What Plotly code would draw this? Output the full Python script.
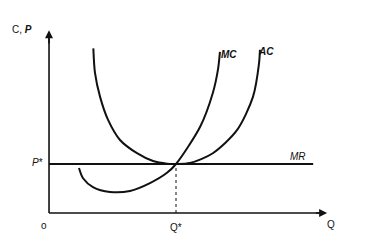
import plotly.graph_objects as go

# (Q* = 10, P* = 10 units)
mc_q = [2.36, 2.68, 3.46, 4.8, 6.38, 7.95, 9.29, 10.0, 11.9, 12.9, 13.3, 13.46]
mc_c = [9.2, 7.1, 5.3, 4.3, 4.5, 6.1, 8.2, 10.0, 17.6, 24.5, 29.2, 32.9]
ac_q = [3.49, 3.62, 4.02, 4.65, 5.59, 6.93, 8.19, 9.3, 10.0, 11.1, 12.9, 14.8, 16.06, 16.54, 16.61]
ac_c = [33.6, 28.6, 23.7, 19.0, 14.9, 12.2, 10.6, 10.05, 10.0, 10.2, 12.2, 16.9, 23.7, 30.6, 33.3]
mr_q = [0.0, 20.8]
mr_c = [10.0, 10.0]
q_star = 10.0
p_star = 10.0
q_axis_end = 21.9
c_axis_end = 37.3

ink = "#111111"
fig = go.Figure()
fig.add_trace(go.Scatter(x=mc_q, y=mc_c, mode="lines", line=dict(color=ink, width=2, shape="spline", smoothing=0.8), hoverinfo="skip"))
fig.add_trace(go.Scatter(x=ac_q, y=ac_c, mode="lines", line=dict(color=ink, width=2, shape="spline", smoothing=0.8), hoverinfo="skip"))
fig.add_trace(go.Scatter(x=mr_q, y=mr_c, mode="lines", line=dict(color=ink, width=2), hoverinfo="skip"))
fig.add_trace(go.Scatter(x=[q_star, q_star], y=[0, p_star], mode="lines", line=dict(color=ink, width=1, dash="dot"), hoverinfo="skip"))
# axes lines
fig.add_trace(go.Scatter(x=[0, q_axis_end - 0.3], y=[0, 0], mode="lines", line=dict(color=ink, width=1.6), hoverinfo="skip"))
fig.add_trace(go.Scatter(x=[0, 0], y=[0, c_axis_end - 1], mode="lines", line=dict(color=ink, width=1.6), hoverinfo="skip"))

# arrowheads
fig.add_annotation(x=q_axis_end, y=0, ax=q_axis_end - 1, ay=0, xref="x", yref="y", axref="x", ayref="y",
                   showarrow=True, arrowhead=2, arrowsize=1, arrowwidth=1.6, arrowcolor=ink, text="")
fig.add_annotation(x=0, y=c_axis_end, ax=0, ay=c_axis_end - 3, xref="x", yref="y", axref="x", ayref="y",
                   showarrow=True, arrowhead=2, arrowsize=1, arrowwidth=1.6, arrowcolor=ink, text="")

font = dict(family="Liberation Sans, Arial", size=10, color=ink)
labels = [
    (-2.13, 37.4, "C, <b><i>P</i></b>"),
    (-0.94, 10.3, "<i>P</i>*"),
    (-0.39, -2.5, "o"),
    (q_star, -2.9, "Q*"),
    (22.2, -2.3, "Q"),
    (19.6, 11.5, "<i>MR</i>"),
    (14.17, 32.3, "<b><i>MC</i></b>"),
    (17.1, 33.0, "<b><i>AC</i></b>"),
]
for x, y, t in labels:
    fig.add_annotation(x=x, y=y, text=t, showarrow=False, font=font, xref="x", yref="y")

fig.update_layout(
    width=367, height=247, margin=dict(l=0, r=0, t=0, b=0),
    paper_bgcolor="white", plot_bgcolor="white", showlegend=False,
    xaxis=dict(range=[-3.86, 25.04], visible=False, fixedrange=True),
    yaxis=dict(range=[-6.94, 43.47], visible=False, fixedrange=True),
)
fig.write_html("out.html")
